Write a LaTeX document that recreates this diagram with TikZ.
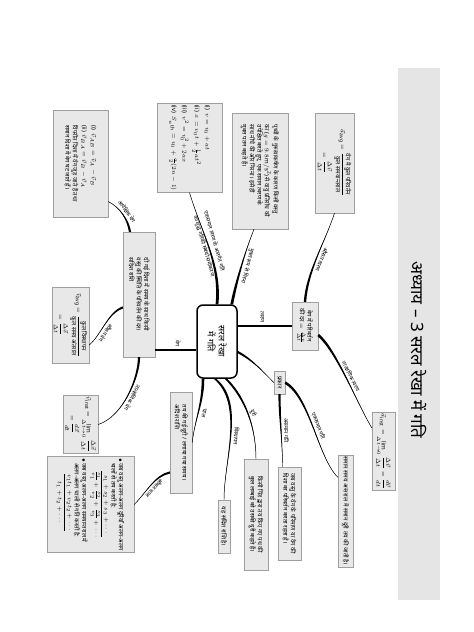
\documentclass[tikz,border=0pt]{standalone}
\usepackage{amsmath}
\usepackage{fontspec}
\setmainfont{Noto Sans}[Script=Devanagari]
\usetikzlibrary{calc}

% tapered branch: from, first control, second control, to, half width at start
\newcommand{\twigline}[5]{%
  \fill[twig] ($(#1)+(#5)$) .. controls +(#2) and +(#3) .. (#4)
    .. controls +(#3) and +(#2) .. ($(#1)-(#5)$) -- cycle;
  \draw[leaf] (#1) .. controls +(#2) and +(#3) .. (#4);}

\begin{document}
\begin{tikzpicture}[x=1pt, y=1pt, rotate=-90, transform shape,
    note/.style={rectangle, draw=gray!75, fill=gray!18, inner sep=1.5pt, align=left, font=\fontsize{6}{7.5}\selectfont},
    topicbox/.style={rectangle, draw, rounded corners=6pt, line width=1.5pt, fill=white, align=center, font=\bfseries\fontsize{9}{11}\selectfont, minimum width=73pt, minimum height=40pt},
    lbl/.style={font=\fontsize{5.5}{6.5}\selectfont, inner sep=0.5pt},
    trunk/.style={line width=2pt},
    twig/.style={fill=black},
    leaf/.style={line width=0.45pt}
]
    \useasboundingbox (0,0) rectangle (632,474);

    % Title band
    \fill[gray!20] (68,398) rectangle (600,440);
    \node[font=\bfseries\fontsize{17}{20}\selectfont] (title) at (350,419) {अध्याय – 3 सरल रेखा में गति};

    % Centre
    \node[topicbox] (topic) at (341.5,217) {सरल रेखा\\में गति};

    % Acceleration
    \node[note, align=center, minimum width=48pt, minimum height=26pt] (acc) at (326,305) {वेग में परिवर्तन\\की दर $=\frac{\Delta v}{\Delta t}$};
    \node[note, align=center, minimum width=100pt, minimum height=39pt] (aavg) at (163,334.5) {$\vec a_{\mathrm{avg}} = \dfrac{\text{वेग में कुल परिवर्तन}}{\text{कुल समयान्तराल}}$\\[1pt]$= \dfrac{\Delta \vec v}{\Delta t}$};
    \node[note, minimum width=73pt, minimum height=23pt] (ainst) at (451.5,383.5) {$\vec a_{\mathrm{inst}} = \lim\limits_{\Delta t\to 0}\dfrac{\Delta \vec v}{\Delta t} = \dfrac{d\vec v}{dt}$};

    % Types of motion
    \node[note, inner sep=1pt, minimum width=23pt, minimum height=11pt] (types) at (382.5,279.5) {प्रकार};
    \node[note, minimum width=93pt, minimum height=23pt] (nonuni) at (513.5,289.5) {जब वस्तु के वेग के परिमाण या वेग की\\दिशा का परिवर्तन करता रहता है।};
    \node[note, minimum width=112pt, minimum height=15pt] (uni) at (511,345.5) {समान समय अन्तराल में समान दूरी तय की जाती है।};

    % Speed, displacement, distance
    \node[note, minimum width=101pt, minimum height=22pt] (speed) at (442.5,181) {तय की गई दूरी / लगाया गया समय।\\अदिश राशि};
    \node[note, minimum width=53pt, minimum height=12pt] (disp) at (526.5,224) {यह सदिश राशि है।};
    \node[note, minimum width=111pt, minimum height=24pt] (dist) at (514.5,256) {किसी पिंड द्वारा तय किए गए पथ की\\कुल लम्बाई को उसकी दूरी कहते हैं।};
    \node[note, minimum width=87pt, minimum height=87pt] (savg) at (504.5,90.5) {$\bullet$ जब वस्तु अलग-अलग दूरियाँ अलग-अलग\\\hspace*{5pt}चालों से तय करती है:\\[1pt]
        \hspace*{12pt}$\dfrac{s_1+s_2+s_3+\cdots}{\frac{s_1}{v_1}+\frac{s_2}{v_2}+\frac{s_3}{v_3}+\cdots}$\\[2pt]
        $\bullet$ जब वस्तु अलग-अलग समयान्तराल में\\\hspace*{5pt}अलग-अलग चालों से गति करती है:\\[1pt]
        \hspace*{15pt}$\dfrac{v_1t_1+v_2t_2+\cdots}{t_1+t_2+\cdots}$};

    % Velocity
    \node[note, minimum width=125pt, minimum height=32pt] (vel) at (294.5,139) {दी गई दिशा में समय के साथ किसी\\वस्तु की स्थिति के परिवर्तन की दर।\\सदिश राशि};
    \node[note, minimum width=107pt, minimum height=55pt] (relv) at (163.5,80.5) {(i)\enspace $\vec v_{AB} = \vec v_A - \vec v_B$\\[2pt](ii)\enspace $\vec v_{BA} = \vec v_B - \vec v_A$\\[2pt]विपरीत दिशा में वेग जुड़ जाते हैं तथा\\समान दिशा में वेग घट जाते हैं।};
    \node[note, align=center, minimum width=76pt, minimum height=37pt] (vavg) at (325,70.5) {$\vec v_{\mathrm{avg}} = \dfrac{\text{कुल विस्थापन}}{\text{कुल समय अंतराल}}$\\[1pt]$= \dfrac{\Delta \vec x}{\Delta t}$};
    \node[note, align=center, minimum width=53pt, minimum height=35pt] (vinst) at (424.5,80.5) {$\vec v_{\mathrm{inst}} = \lim\limits_{\Delta t\to 0}\dfrac{\Delta \vec x}{\Delta t}$\\[1pt]$= \dfrac{d\vec x}{dt}$};

    % Equations and free fall
    \node[note, minimum width=70pt, minimum height=65pt] (eqs) at (148,189.5) {(i)\enspace $v = v_0 + at$\\[3pt](ii)\enspace $x = v_0t + \frac{1}{2}at^2$\\[3pt](iii)\enspace $v^2 = v_0^2 + 2ax$\\[3pt](iv)\enspace $S_{n^{\mathrm{th}}} = v_0 + \frac{a}{2}(2n-1)$};
    \node[note, minimum width=116pt, minimum height=56pt] (ff) at (171,260) {पृथ्वी के गुरुत्वाकर्षण के कारण किसी वस्तु\\का ($g = 9.8\,\mathrm{m/s^2}$) से वायु प्रतिरोध को\\उपेक्षित करते हुए, एक समान त्वरण के\\साथ नीचे की ओर गिरना। इसे ही\\मुक्त पतन कहते हैं।};

    % Attachment points
    \coordinate (ffout) at ([yshift=-6pt]topic.north west);
    \coordinate (ffin) at ([yshift=-6pt]ff.east);
    \coordinate (accup) at ([xshift=9pt]acc.north);
    \coordinate (ainstin) at ($(ainst.south west)!0.2!(ainst.south east)$);
    \coordinate (typout) at ([xshift=10.5pt]topic.north);
    \coordinate (nonin) at ([yshift=-7pt]nonuni.west);
    \coordinate (uniin) at ($(uni.south west)!0.2!(uni.south east)$);
    \coordinate (spdout) at ([yshift=-14pt]topic.east);
    \coordinate (dspout) at ([yshift=-2pt]topic.east);
    \coordinate (dstout) at ([yshift=9pt]topic.east);
    \coordinate (relout) at ([yshift=-9pt]vel.west);
    \coordinate (relin) at ([xshift=38pt]relv.north);
    \coordinate (vavout) at ([xshift=13pt]vel.south);
    \coordinate (vavin) at ([xshift=20pt]vavg.north);
    \coordinate (savout) at ([xshift=30pt]speed.south);

    % Straight branches
    \draw[trunk] (acc.south |- topic.north) -- (acc.south);
    \draw[trunk] ([xshift=8.5pt]topic.south) -- ([xshift=8.5pt]topic.south |- vel.north);

    % Curved branches
    \twigline{topic.west}{-40,4}{40,12}{eqs.east}{0,1.4}
    \twigline{ffout}{-25,5}{20,-8}{ffin}{0,1.4}
    \twigline{acc.west}{-30,2}{30,-10}{aavg.east}{0,1.2}
    \twigline{accup}{15,18}{-25,-15}{ainstin}{1,-0.8}
    \twigline{typout}{8,15}{-12,-12}{types.south}{1.2,0}
    \twigline{types.east}{25,0}{-25,0}{nonin}{0,1.1}
    \twigline{types.north}{15,25}{-20,-20}{uniin}{1.1,-0.6}
    \twigline{spdout}{25,0}{-25,3}{speed.north}{0,1.3}
    \twigline{dspout}{25,30}{-40,0}{disp.west}{0,1.3}
    \twigline{dstout}{20,20}{-30,0}{dist.west}{0,1.3}
    \twigline{relout}{-12,-2}{6,12}{relin}{0,1.1}
    \twigline{vavout}{5,-15}{-10,12}{vavin}{1.1,0}
    \twigline{vel.east}{20,0}{-8,25}{vinst.north}{0,1.1}
    \twigline{savout}{3,-15}{-12,12}{savg.north}{1.1,0}

    % Branch labels
    \node[lbl, rotate=16] (leqsa) at (241,214.5) {एकसमान त्वरण के अन्तर्गत गति};
    \node[lbl, rotate=16] (leqsb) at (246,204) {का शुद्ध गतिकी संबंधी समीकरण};
    \node[lbl, rotate=-15] (lff) at (266,247.5) {मुक्त रूप से गिरना};
    \node[lbl, rotate=-22] (laavg) at (260,322) {औसत त्वरण};
    \node[lbl, rotate=27] (lainst) at (376.3,351) {तात्क्षणिक त्वरण};
    \node[lbl] (lnonuni) at (430.5,286.5) {असमान गति};
    \node[lbl, rotate=21] (luni) at (426,318.5) {एकसमान गति};
    \node[lbl, rotate=-13] (lspeed) at (413,204) {चाल};
    \node[lbl, rotate=-4] (ldisp) at (436,236.5) {विस्थापन};
    \node[lbl, rotate=20] (ldist) at (413,253) {दूरी};
    \node[lbl, rotate=35] (lrelv) at (211.6,126.9) {आपेक्षिक वेग};
    \node[lbl, rotate=-34] (lvavg) at (333,106) {औसत वेग};
    \node[lbl, rotate=-28] (lvinst) at (397.6,132.3) {तात्क्षणिक वेग};
    \node[lbl, rotate=-42] (lsavg) at (488.5,154.6) {औसत चाल};
    \node[lbl, anchor=east] (lacc) at (323,262) {त्वरण};
    \node[lbl, anchor=east] (lvel) at (347,178) {वेग};
\end{tikzpicture}
\end{document}
